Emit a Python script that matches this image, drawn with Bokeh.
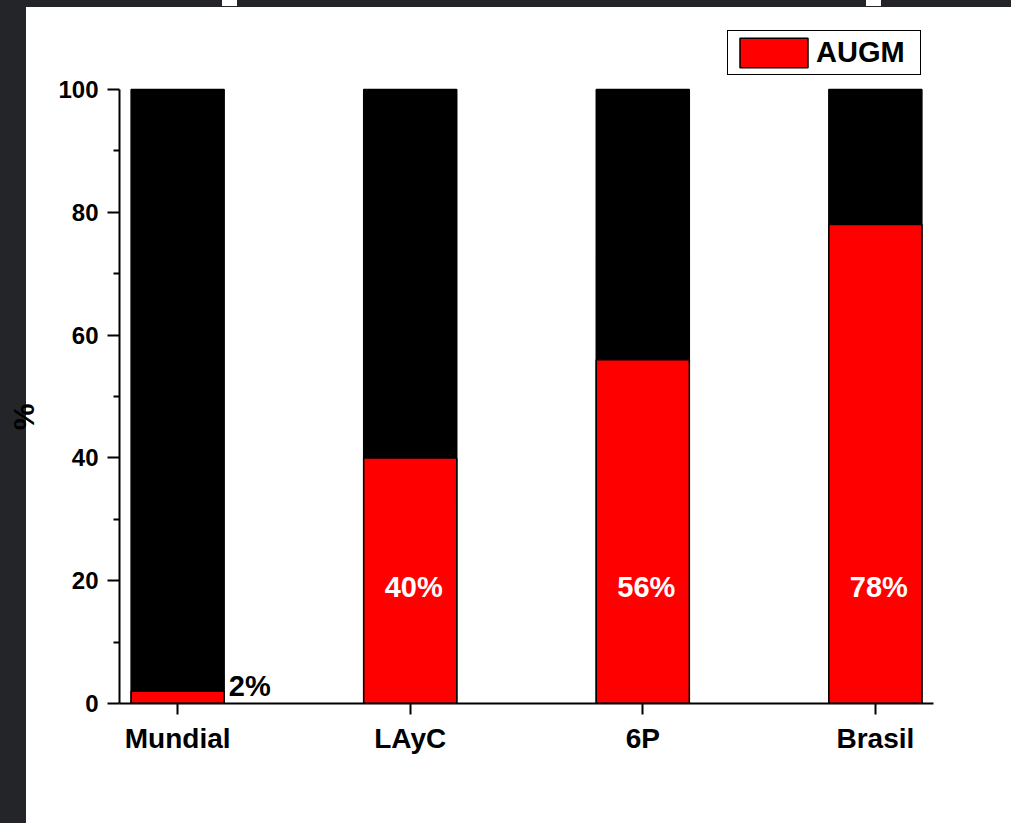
from bokeh.plotting import figure
from bokeh.models import (ColumnDataSource, FixedTicker, Range1d, Legend, LegendItem)
from bokeh.embed import file_html
from bokeh.resources import INLINE

# ---- data ----
categories = ["Mundial", "LAyC", "6P", "Brasil"]
augm = [2, 40, 56, 78]
total = [100, 100, 100, 100]
value_labels = ["2%", "40%", "56%", "78%"]
y_ticks = [0, 20, 40, 60, 80, 100]
y_minor = [10, 30, 50, 70, 90]

FONT = "Liberation Sans"
xs = list(range(1, len(categories) + 1))
BAR_W = 0.4
Y_MAX = 100
# frame is extended above 100 so the legend (which sits above the bars) is inside it
PX_PER_UNIT = 6.14
Y_END = Y_MAX + 64 / PX_PER_UNIT

p = figure(width=1011, height=823, output_backend="svg", toolbar_location=None,
           x_range=Range1d(0.75, 4.25), y_range=Range1d(0, Y_END),
           min_border_left=119, min_border_right=78, min_border_top=25,
           min_border_bottom=120)
p.title.visible = False
p.outline_line_color = None
p.background_fill_color = "white"
p.border_fill_alpha = 0
p.grid.visible = False

src = ColumnDataSource(dict(x=xs, augm=augm, total=total))
p.vbar(x="x", top="total", bottom=0, width=BAR_W, source=src,
       fill_color="black", line_color="black", line_width=1.5)
r_red = p.vbar(x="x", top="augm", bottom=0, width=BAR_W, source=src,
               fill_color="#ff0000", line_color="black", line_width=1.5)

# value labels: inside (white) for tall bars, right side (black) for short ones
in_x, in_t, out_x, out_y, out_t = [], [], [], [], []
for x, v, t in zip(xs, augm, value_labels):
    if v >= 10:
        in_x.append(x + 0.015)
        in_t.append(t)
    else:
        out_x.append(x + BAR_W / 2 + 0.02)
        out_y.append(v + 0.9)
        out_t.append(t)
p.text(x=in_x, y=[19] * len(in_x), text=in_t, text_color="white",
       text_font={"value": FONT}, text_font_style="bold", text_font_size="29px",
       text_align="center", text_baseline="middle")
p.text(x=out_x, y=out_y, text=out_t, text_color="black",
       text_font={"value": FONT}, text_font_style="bold", text_font_size="29px",
       text_align="left", text_baseline="middle")

# axes
xa = p.xaxis[0]
xa.ticker = FixedTicker(ticks=xs)
xa.major_label_overrides = {x: c for x, c in zip(xs, categories)}
xa.axis_line_width = 2
xa.major_tick_line_width = 2
xa.major_tick_out = 11
xa.major_tick_in = 0
xa.minor_tick_line_color = None
xa.major_label_text_font = FONT
xa.major_label_text_font_style = "bold"
xa.major_label_text_font_size = "28px"
xa.major_label_text_color = "black"
xa.major_label_standoff = 8

ya = p.yaxis[0]
ya.ticker = FixedTicker(ticks=y_ticks, minor_ticks=y_minor)
ya.bounds = (0, Y_MAX)
ya.axis_line_width = 2
ya.major_tick_line_width = 2
ya.minor_tick_line_width = 2
ya.major_tick_out = 12
ya.major_tick_in = 0
ya.minor_tick_out = 6
ya.minor_tick_in = 0
ya.major_label_text_font = FONT
ya.major_label_text_font_style = "bold"
ya.major_label_text_font_size = "24px"
ya.major_label_text_color = "black"
ya.major_label_standoff = 9
# trailing wide spaces nudge the rotated "%" below the middle of the frame
ya.axis_label = "%" + "\u2003" * 3 + "\u2002"
ya.axis_label_text_font = FONT
ya.axis_label_text_font_style = "bold"
ya.axis_label_text_font_size = "30px"
ya.axis_label_text_color = "black"
ya.axis_label_standoff = 15

legend = Legend(items=[LegendItem(label="AUGM", renderers=[r_red])],
                location=(608, 628), orientation="vertical")
legend.glyph_width = 85
legend.glyph_height = 37
legend.label_standoff = 0
legend.label_width = 101
legend.label_text_font = FONT
legend.label_text_font_style = "bold"
legend.label_text_font_size = "29px"
legend.label_text_color = "black"
legend.label_height = 30
legend.padding = 3
legend.margin = 0
legend.spacing = 0
legend.border_line_color = "black"
legend.border_line_alpha = 1
legend.border_line_width = 1.5
legend.background_fill_color = "white"
legend.background_fill_alpha = 1
p.add_layout(legend)

html = file_html(p, INLINE, title="AUGM")
style = (
    "<style>html,body{margin:0 !important;padding:0 !important;overflow:hidden;"
    "height:100%;}"
    "body{background:"
    "linear-gradient(#ffffff,#ffffff) 222px 0/15px 6px no-repeat,"
    "linear-gradient(#ffffff,#ffffff) 866px 0/15px 6px no-repeat,"
    "linear-gradient(#242529,#242529) 0 0/100% 7px no-repeat,"
    "linear-gradient(#242529,#242529) 0 0/26px 100% no-repeat,"
    "#ffffff !important;}</style>"
)
html = html.replace("</head>", style + "</head>", 1)
open("out.html", "w").write(html)
